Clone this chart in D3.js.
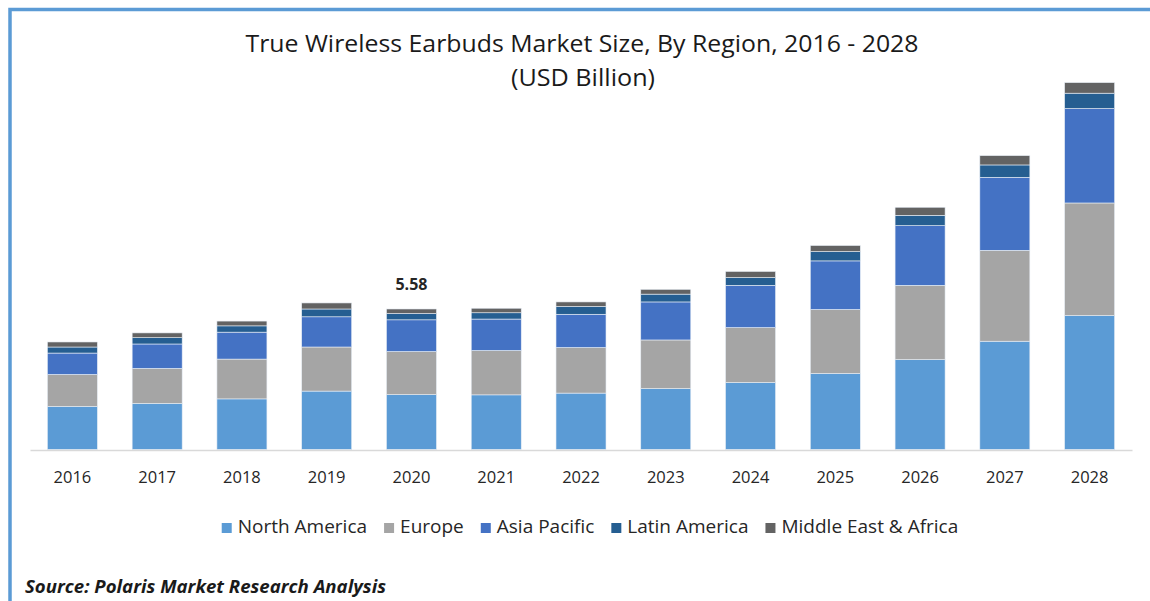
<!DOCTYPE html>
<html>
<head>
<meta charset="utf-8">
<script src="https://cdn.jsdelivr.net/npm/d3@7"></script>
<style>
  body { margin: 0; background: #fff; }
  svg { display: block; }
</style>
</head>
<body>
<div id="chart"></div>
<script>
const years = ['2016', '2017', '2018', '2019', '2020', '2021', '2022', '2023', '2024', '2025', '2026', '2027', '2028'];
const northAmerica = [1.71, 1.83, 2.01, 2.32, 2.18, 2.17, 2.24, 2.42, 2.66, 3.02, 3.57, 4.30, 5.32];
const europe = [1.27, 1.39, 1.58, 1.75, 1.71, 1.76, 1.81, 1.93, 2.18, 2.54, 2.95, 3.61, 4.47];
const asiaPacific = [0.85, 0.97, 1.07, 1.20, 1.26, 1.25, 1.32, 1.51, 1.68, 1.93, 2.37, 2.90, 3.75];
const latinAmerica = [0.24, 0.25, 0.25, 0.31, 0.25, 0.25, 0.31, 0.31, 0.31, 0.37, 0.41, 0.49, 0.61];
const middleEastAfrica = [0.20, 0.19, 0.19, 0.24, 0.18, 0.18, 0.18, 0.19, 0.24, 0.24, 0.32, 0.37, 0.42];
const regions = ['North America', 'Europe', 'Asia Pacific', 'Latin America', 'Middle East & Africa'];
const colors = ['#5b9bd5', '#a5a5a5', '#4472c4', '#255e91', '#636363'];
const labelYear = '2020';
const labelText = '5.58';

const width = 1150, height = 601;
const svg = d3.select('#chart').append('svg')
  .attr('width', width)
  .attr('height', height);

// frame
svg.append('path')
  .attr('d', 'M10,' + (height + 5) + 'V9.5H' + (width + 5))
  .attr('fill', 'none')
  .attr('stroke', '#5b9bd5')
  .attr('stroke-width', 3.5);

const series = [northAmerica, europe, asiaPacific, latinAmerica, middleEastAfrica];
const table = years.map((y, i) => {
  const row = { year: y };
  regions.forEach((r, k) => { row[r] = series[k][i]; });
  return row;
});
const stacked = d3.stack().keys(regions)(table);

const x = d3.scaleBand()
  .domain(years)
  .range([30, 1132])
  .paddingInner(0.41)
  .paddingOuter(0.205);

const y = d3.scaleLinear()
  .domain([0, 16])
  .range([449.5, 46.6]);

const color = d3.scaleOrdinal().domain(regions).range(colors);

svg.append('g')
  .selectAll('g')
  .data(stacked)
  .enter().append('g')
  .attr('fill', d => color(d.key))
  .selectAll('rect')
  .data(d => d)
  .enter().append('rect')
  .attr('x', d => x(d.data.year))
  .attr('y', d => y(d[1]))
  .attr('width', x.bandwidth())
  .attr('height', d => y(d[0]) - y(d[1]))
  .attr('stroke', '#e8eef6')
  .attr('stroke-width', 0.6);

// x axis
const xAxis = svg.append('g')
  .attr('transform', 'translate(0,450)')
  .call(d3.axisBottom(x).tickSize(0).tickSizeOuter(0).tickPadding(21));
xAxis.select('.domain').attr('stroke', '#d9d9d9').attr('stroke-width', 1.5);
xAxis.selectAll('text')
  .attr('font-family', 'Open Sans, sans-serif')
  .attr('font-size', '16.5px')
  .attr('fill', '#262626');

// value label over 2020
const totals = years.map((yy, i) => d3.sum(series, s => s[i]));
const li = years.indexOf(labelYear);
svg.append('text')
  .attr('x', x(labelYear) + x.bandwidth() / 2)
  .attr('y', y(totals[li]) - 19)
  .attr('text-anchor', 'middle')
  .attr('font-family', 'Open Sans, sans-serif')
  .attr('font-weight', 'bold')
  .attr('font-size', '16px')
  .attr('fill', '#262626')
  .text(labelText);

// titles
svg.append('text')
  .attr('x', 582)
  .attr('y', 52)
  .attr('text-anchor', 'middle')
  .attr('font-family', 'Open Sans, sans-serif')
  .attr('font-size', '23px')
  .attr('fill', '#1a1a1a')
  .attr('textLength', 673)
  .attr('lengthAdjust', 'spacingAndGlyphs')
  .text('True Wireless Earbuds Market Size, By Region, 2016 - 2028');

svg.append('text')
  .attr('x', 583)
  .attr('y', 86)
  .attr('text-anchor', 'middle')
  .attr('font-family', 'Open Sans, sans-serif')
  .attr('font-size', '23px')
  .attr('fill', '#1a1a1a')
  .attr('textLength', 144)
  .attr('lengthAdjust', 'spacingAndGlyphs')
  .text('(USD Billion)');

// legend
const legend = svg.append('g');
const items = legend.selectAll('g')
  .data(regions)
  .enter().append('g');
items.append('rect')
  .attr('width', 10)
  .attr('height', 10)
  .attr('y', -10)
  .attr('fill', d => color(d));
items.append('text')
  .attr('x', 16)
  .attr('font-family', 'Open Sans, sans-serif')
  .attr('font-size', '19px')
  .attr('fill', '#262626')
  .text(d => d);
let cx = 0;
const widths = [];
items.each(function () {
  widths.push(16 + this.querySelector('text').getComputedTextLength());
});
const gap = 17;
const total = d3.sum(widths) + gap * (widths.length - 1);
let start = 590 - total / 2;
items.attr('transform', (d, i) => {
  const t = 'translate(' + (start + cx) + ',533)';
  cx += widths[i] + gap;
  return t;
});

// source
svg.append('text')
  .attr('x', 25)
  .attr('y', 593)
  .attr('font-family', 'Open Sans, sans-serif')
  .attr('font-size', '17px')
  .attr('font-weight', 'bold')
  .attr('font-style', 'italic')
  .attr('fill', '#1a1a1a')
  .attr('textLength', 361)
  .attr('lengthAdjust', 'spacingAndGlyphs')
  .text('Source: Polaris  Market Research Analysis');
</script>
</body>
</html>
